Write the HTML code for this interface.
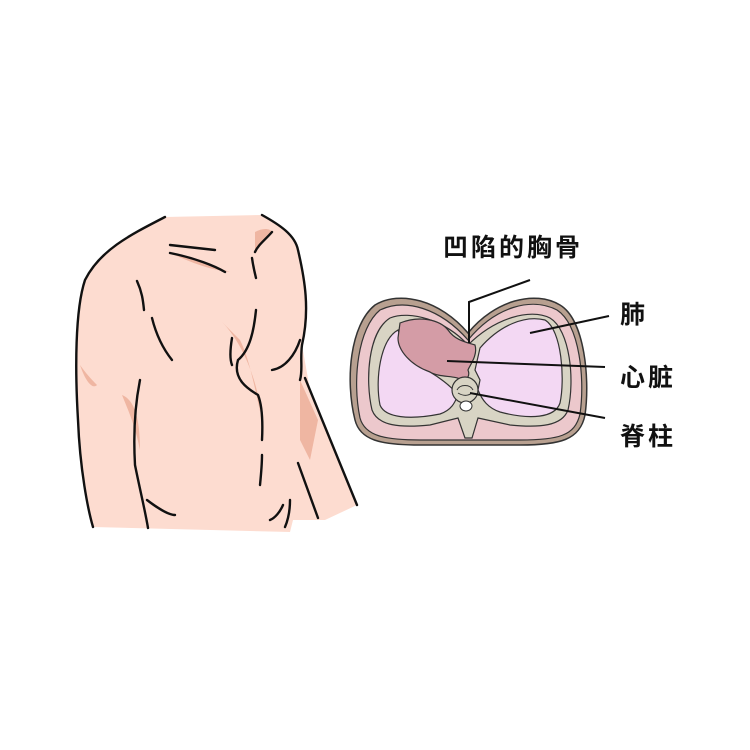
<!DOCTYPE html>
<html><head><meta charset="utf-8"><style>
html,body{margin:0;padding:0;background:#fff}
svg{display:block}
text{font-family:"Liberation Sans","Noto Sans CJK SC",sans-serif;font-weight:bold;fill:#111}
</style></head><body>
<svg width="750" height="750" viewBox="0 0 750 750" xmlns="http://www.w3.org/2000/svg">
<!-- torso -->
<path d="M165,217 C130,235 100,250 85,280 C75,310 75,370 78,420 C80,470 88,510 93,527 L290,532 L293,520 L325,520 L357,505 L310,390 L302,345 C310,310 305,280 298,250 C290,232 275,222 262,215 Z" fill="#fddcd0"/>
<g fill="#efb6a2">
<path d="M222,322 C235,335 250,360 258,395 C262,420 262,440 262,420 C255,390 250,360 240,340 Z"/>
<path d="M122,395 C135,400 140,420 140,450 C135,425 128,410 122,395 Z"/>
<path d="M80,365 C85,380 92,390 97,385 C90,378 85,372 80,365 Z"/>
<path d="M300,380 L318,420 L310,460 L300,440 Z"/>
<path d="M255,232 C262,228 270,228 272,232 C265,240 260,245 255,250 Z"/>
<path d="M170,253 C190,258 210,265 230,272 C210,270 190,262 170,253 Z"/>
</g>
<g fill="none" stroke="#111" stroke-width="2.4" stroke-linecap="round">
<path d="M165,217 C130,235 100,250 85,280 C75,310 75,370 78,420 C80,470 88,510 93,527"/>
<path d="M262,215 C280,225 295,235 298,250 C305,280 310,310 302,345 C300,360 303,370 300,380"/>
<path d="M305,378 L357,505"/>
<path d="M298,463 L318,518"/>
<path d="M170,245 L215,250"/>
<path d="M170,253 C195,258 215,266 225,272"/>
<path d="M272,232 C265,240 258,245 255,252"/>
<path d="M252,258 C253,265 254,270 256,278"/>
<path d="M137,281 C142,292 143,300 144,310"/>
<path d="M152,318 C155,330 160,345 172,360"/>
<path d="M140,380 C136,400 133,430 135,465 C140,490 145,510 148,528"/>
<path d="M147,500 C160,510 170,515 175,515"/>
<path d="M256,310 C254,330 250,350 238,360 C232,380 250,390 258,395 C262,405 263,420 262,440"/>
<path d="M232,338 C230,350 230,360 232,365"/>
<path d="M262,455 C262,465 261,475 260,485"/>
<path d="M300,340 C295,355 285,368 272,370"/>
<path d="M290,500 C290,510 288,520 285,527"/>
<path d="M283,505 C280,512 275,518 270,520"/>
</g>
<!-- cross section -->
<path d="M468,333 C440,300 400,290 375,305 C350,325 345,380 355,420 C360,440 380,445 420,445 L520,445 C560,445 580,440 585,415 C590,380 585,320 560,305 C535,290 495,300 468,333 Z" fill="#b8a090" stroke="#333" stroke-width="1.5"/>
<path d="M468,340 C440,308 405,298 380,310 C358,328 352,380 360,418 C365,436 385,440 420,440 L520,440 C558,440 575,436 580,414 C585,380 580,325 557,310 C532,297 496,306 468,340 Z" fill="#ecc8cc" stroke="#333" stroke-width="1.2"/>
<!-- ring gray -->
<path d="M468,345 C445,320 410,310 390,318 C368,332 365,380 372,410 C378,426 400,428 430,425 L458,418 L465,438 L472,438 L478,418 L510,425 C540,428 562,426 568,410 C575,380 570,330 550,318 C530,308 495,318 468,345 Z" fill="#d8d4c4" stroke="#333" stroke-width="1.2"/>
<!-- lungs -->
<path d="M398,330 C380,340 375,380 380,405 C385,418 410,420 440,414 C452,410 455,402 458,395 C450,385 440,378 430,372 C415,365 405,350 398,330 Z" fill="#f3d8f3" stroke="#333" stroke-width="1.2"/>
<path d="M480,348 C500,325 525,315 545,320 C562,330 565,380 560,403 C555,418 530,420 500,412 C488,408 482,400 478,390 L480,380 L475,370 Z" fill="#f3d8f3" stroke="#333" stroke-width="1.2"/>
<!-- heart -->
<path d="M400,323 C420,315 440,320 448,330 C455,340 465,342 475,345 C478,355 470,365 468,370 C470,375 468,380 462,380 C455,375 440,378 430,372 C410,365 398,350 398,338 Z" fill="#d49ca6" stroke="#333" stroke-width="1.2"/>
<!-- spine -->
<circle cx="465" cy="390" r="13" fill="#d8d4c4" stroke="#333" stroke-width="1.2"/>
<path d="M457,390 C460,384 470,384 473,390 M458,393 C463,396 468,396 472,393" fill="none" stroke="#333" stroke-width="1"/>
<ellipse cx="466" cy="406" rx="6" ry="5" fill="#fff" stroke="#333" stroke-width="1"/>
<!-- leader lines -->
<g stroke="#111" stroke-width="2" fill="none">
<path d="M469,343 L469,302 L530,280"/>
<path d="M530,333 L609,316"/>
<path d="M447,361 L605,367"/>
<path d="M470,393 L605,418"/>
</g>
<text x="443" y="256" font-size="25" letter-spacing="3">凹陷的胸骨</text>
<text x="620" y="323" font-size="25">肺</text>
<text x="620" y="386" font-size="25" letter-spacing="3">心脏</text>
<text x="620" y="445" font-size="25" letter-spacing="3">脊柱</text>
</svg>
</body></html>
